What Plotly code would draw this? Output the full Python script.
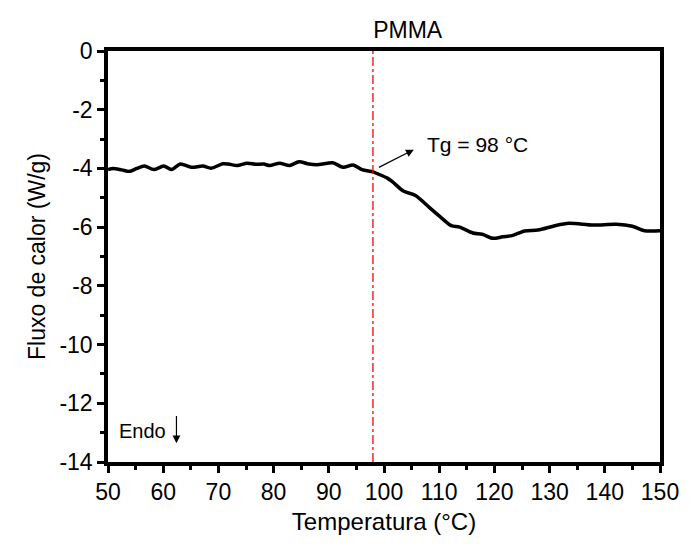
import plotly.graph_objects as go

temperature = [50.0, 50.9, 52.5, 53.9, 55.2, 56.6, 58.3, 60.1, 61.5, 63.1, 65.1, 67.2, 68.7,
               70.8, 71.8, 73.4, 75.2, 76.8, 78.2, 79.3, 81.1, 82.9, 84.6, 86.4, 88.2, 90.7,
               92.6, 94.4, 96.0, 98.0, 98.8, 100.6, 101.5, 103.6, 105.7, 108.4, 110.5, 112.2,
               113.7, 116.1, 117.8, 119.7, 121.5, 123.2, 125.5, 127.9, 130.8, 133.5, 137.9,
               142.1, 145.0, 147.2, 150.0]
heat_flow = [-4.04, -4.0, -4.05, -4.1, -4.0, -3.92, -4.04, -3.92, -4.04, -3.85, -3.96, -3.92, -3.99,
             -3.84, -3.85, -3.9, -3.82, -3.86, -3.85, -3.9, -3.82, -3.9, -3.77, -3.85, -3.87, -3.81,
             -3.96, -3.88, -4.04, -4.12, -4.18, -4.33, -4.45, -4.78, -4.92, -5.36, -5.7, -5.95,
             -6.0, -6.2, -6.24, -6.38, -6.33, -6.29, -6.13, -6.1, -5.96, -5.87, -5.93,
             -5.9, -5.97, -6.12, -6.12]

x_ticks = [50, 60, 70, 80, 90, 100, 110, 120, 130, 140, 150]
y_ticks = [0, -2, -4, -6, -8, -10, -12, -14]
tg_value = 98

FONT = "Liberation Sans, Arial, sans-serif"

fig = go.Figure()
fig.add_trace(go.Scatter(x=temperature, y=heat_flow, mode="lines",
                         line=dict(color="black", width=3.5, shape="spline", smoothing=0.8),
                         showlegend=False))

fig.add_shape(type="line", x0=tg_value, x1=tg_value, xref="x", y0=0, y1=1, yref="paper",
              line=dict(color="red", width=1.3, dash="dashdot"))

fig.add_annotation(x=105.4, y=-3.36, ax=98.8, ay=-3.99, xref="x", yref="y", axref="x", ayref="y",
                   showarrow=True, arrowhead=2, arrowsize=1.3, arrowwidth=1.2, arrowcolor="black", text="")
fig.add_annotation(x=107.5, y=-3.2, xref="x", yref="y", text="Tg = 98 °C", showarrow=False,
                   xanchor="left", yanchor="middle", font=dict(size=21, color="black", family=FONT))
fig.add_annotation(x=51.6, y=-12.96, xref="x", yref="y", text="Endo", showarrow=False,
                   xanchor="left", yanchor="middle", font=dict(size=20, color="black", family=FONT))
fig.add_annotation(x=62.4, y=-13.36, ax=62.4, ay=-12.38, xref="x", yref="y", axref="x", ayref="y",
                   showarrow=True, arrowhead=2, arrowsize=1.3, arrowwidth=1.2, arrowcolor="black", text="")

fig.update_layout(
    width=691, height=544,
    margin=dict(l=108, r=20, t=51, b=78),
    paper_bgcolor="white", plot_bgcolor="white",
    font=dict(family=FONT, size=23, color="black"),
    title=dict(text="PMMA", x=0.59, xanchor="center", y=0.945, yanchor="middle",
               font=dict(size=23, family=FONT, color="black")),
    xaxis=dict(range=[50, 150], tickvals=x_ticks, ticktext=[str(v) for v in x_ticks],
               showline=True, linecolor="black", linewidth=3.5, mirror=True,
               ticks="outside", ticklen=7, tickwidth=2.5, tickcolor="black",
               tickfont=dict(size=23), ticklabeloverflow="allow",
               minor=dict(dtick=5, ticks="outside", ticklen=4, tickwidth=2.5, tickcolor="black"),
               showgrid=False, zeroline=False,
               title=dict(text="Temperatura (°C)", font=dict(size=24), standoff=10)),
    yaxis=dict(range=[-14, 0], tickvals=y_ticks, ticktext=[str(v) for v in y_ticks],
               showline=True, linecolor="black", linewidth=3.5, mirror=True,
               ticks="outside", ticklen=7, tickwidth=2.5, tickcolor="black",
               tickfont=dict(size=23), ticklabeloverflow="allow",
               minor=dict(dtick=1, ticks="outside", ticklen=4, tickwidth=2.5, tickcolor="black"),
               showgrid=False, zeroline=False,
               title=dict(text="Fluxo de calor (W/g)", font=dict(size=23), standoff=8)),
)

fig.write_html("out.html")
